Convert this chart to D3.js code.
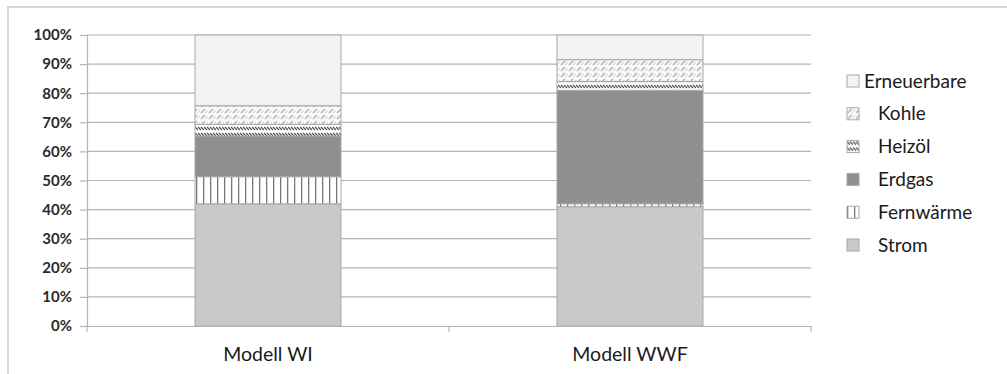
<!DOCTYPE html>
<html><head><meta charset="utf-8">
<script src="https://cdn.jsdelivr.net/npm/d3@7/dist/d3.min.js"></script>
<style>body{margin:0;background:#fff}svg{display:block}text{font-family:Lato,"Open Sans",sans-serif}</style>
</head><body><svg id="c" width="1007" height="374"></svg>
<script>
const categories = ["Modell WI", "Modell WWF"];
const seriesNames = ["Strom", "Fernwärme", "Erdgas", "Heizöl", "Kohle", "Erneuerbare"];
const strom = [42, 41];
const fernwaerme = [9.3, 1];
const erdgas = [14, 39];
const heizoel = [4, 3];
const kohle = [6.4, 7.5];
const erneuerbare = [24.3, 8.5];
const yTicks = [0,10,20,30,40,50,60,70,80,90,100];

const svg = d3.select("#c");
const defs = svg.append("defs");
// patterns
const pF = defs.append("pattern").attr("id","pF").attr("width",7).attr("height",4).attr("patternUnits","userSpaceOnUse");
pF.append("rect").attr("width",7).attr("height",4).attr("fill","#fff");
pF.append("rect").attr("x",0).attr("width",1.3).attr("height",4).attr("fill","#777");
const pK = defs.append("pattern").attr("id","pK").attr("width",8).attr("height",6).attr("patternUnits","userSpaceOnUse");
pK.append("rect").attr("width",8).attr("height",6).attr("fill","#fafafa");
pK.append("path").attr("d","M1,5 L5,1").attr("stroke","#b5b5b5").attr("stroke-width",1.6);
pK.append("path").attr("d","M5,5 L8,2").attr("stroke","#d0d0d0").attr("stroke-width",1);
const pH = defs.append("pattern").attr("id","pH").attr("width",6).attr("height",6).attr("patternUnits","userSpaceOnUse");
pH.append("rect").attr("width",6).attr("height",6).attr("fill","#fff");
pH.append("path").attr("d","M0,1 L3,4 M3,1 L6,4").attr("stroke","#555").attr("stroke-width",1.3);

const fills = {"Strom":"#c9c9c9","Fernwärme":"url(#pF)","Erdgas":"#8f8f8f","Heizöl":"url(#pH)","Kohle":"url(#pK)","Erneuerbare":"#f3f3f3"};
const valuesBy = {"Strom":strom,"Fernwärme":fernwaerme,"Erdgas":erdgas,"Heizöl":heizoel,"Kohle":kohle,"Erneuerbare":erneuerbare};

// outer frame
svg.append("path").attr("d","M8,374 V7 H1007").attr("fill","none").attr("stroke","#c8c8c8").attr("stroke-width",1.5);

const x = d3.scaleBand().domain(categories).range([87,811]).paddingInner(0).paddingOuter(0);
const y = d3.scaleLinear().domain([0,100]).range([326,35]);
const barW = 146;

// gridlines
svg.append("g").selectAll("line").data(yTicks.filter(d=>d>0)).join("line")
  .attr("x1",87).attr("x2",811).attr("y1",d=>y(d)).attr("y2",d=>y(d))
  .attr("stroke","#b4b4b4").attr("stroke-width",1.2);

// stacked
const table = categories.map((c,i)=>{const o={cat:c}; seriesNames.forEach(s=>o[s]=valuesBy[s][i]); return o;});
const stack = d3.stack().keys(seriesNames)(table);
const g = svg.append("g");
stack.forEach(layer=>{
  g.selectAll(null).data(layer).join("rect")
    .attr("x",d=>x(d.data.cat)+x.bandwidth()/2-barW/2)
    .attr("width",barW)
    .attr("y",d=>y(d[1]))
    .attr("height",d=>y(d[0])-y(d[1]))
    .attr("fill",fills[layer.key])
    .attr("stroke","#a8a8a8").attr("stroke-width",1);
});

// y axis
const ya = svg.append("g").attr("transform","translate(87,0)")
  .call(d3.axisLeft(y).tickValues(yTicks).tickFormat(d=>d+"%").tickSize(7).tickPadding(8));
ya.select(".domain").attr("stroke","#b4b4b4").attr("stroke-width",1.2);
ya.selectAll(".tick line").attr("stroke","#b4b4b4").attr("stroke-width",1.2);
ya.selectAll("text").attr("font-size",15).attr("font-weight",700).attr("fill","#2a2a2a").attr("font-family","Lato,'Open Sans',sans-serif");

// x axis
const xa = svg.append("g").attr("transform","translate(0,326)")
  .call(d3.axisBottom(x).tickSize(0).tickPadding(0));
xa.select(".domain").attr("stroke","#b4b4b4").attr("stroke-width",1.2);
xa.selectAll("text").attr("y",35).attr("dy",0).attr("font-size",19.5).attr("fill","#1a1a1a").attr("font-family","Lato,'Open Sans',sans-serif");
xa.selectAll(null).data([87,449,811]).join("line")
  .attr("x1",d=>d).attr("x2",d=>d).attr("y1",0).attr("y2",6).attr("stroke","#b4b4b4").attr("stroke-width",1.2);

// legend
const legendOrder = seriesNames.slice().reverse();
const lg = svg.append("g");
const rows = lg.selectAll("g").data(legendOrder).join("g")
  .attr("transform",(d,i)=>`translate(847,${81+i*32.8})`);
rows.append("rect").attr("x",0).attr("y",-6).attr("width",12).attr("height",12)
  .attr("fill",d=>fills[d]).attr("stroke","#a8a8a8").attr("stroke-width",1);
rows.append("text").attr("x",(d,i)=>i===0?17:31).attr("y",0).attr("dy","0.35em")
  .attr("font-size",19).attr("fill","#1a1a1a").text(d=>d);
</script></body></html>
